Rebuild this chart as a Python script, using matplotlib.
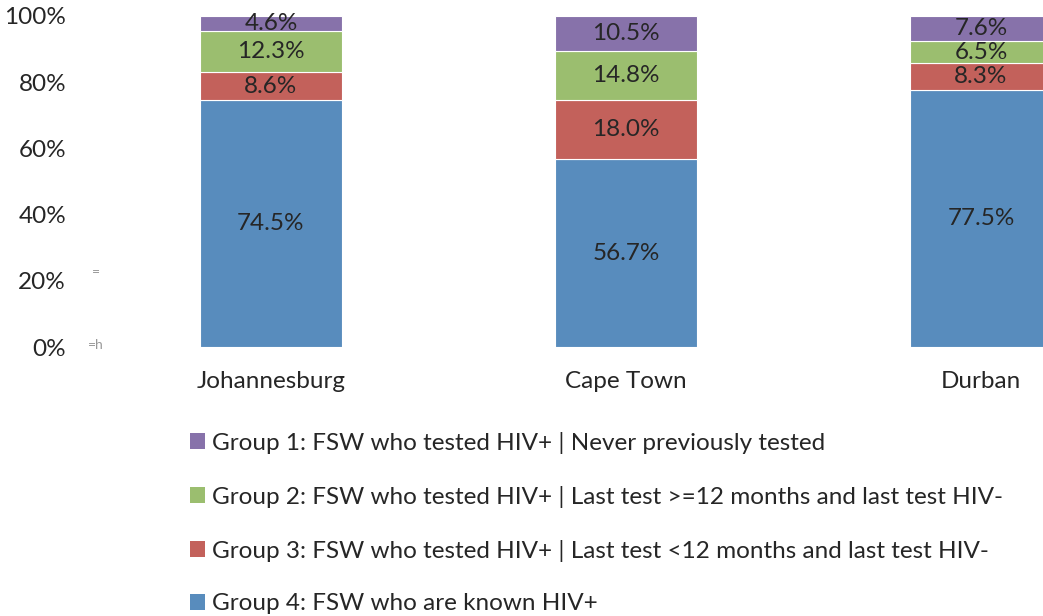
import matplotlib
matplotlib.use("Agg")
import matplotlib.pyplot as plt
from matplotlib.patches import Patch

cities = ["Johannesburg", "Cape Town", "Durban"]
group4 = [74.5, 56.7, 77.5]
group3 = [8.6, 18.0, 8.3]
group2 = [12.3, 14.8, 6.5]
group1 = [4.6, 10.5, 7.6]

labels = [
    "Group 1: FSW who tested HIV+ | Never previously tested",
    "Group 2: FSW who tested HIV+ | Last test >=12 months and last test HIV-",
    "Group 3: FSW who tested HIV+ | Last test <12 months and last test HIV-",
    "Group 4: FSW who are known HIV+",
]
colors = ["#8772aa", "#9bbe6f", "#c3615b", "#588cbd"]

plt.rcParams["font.family"] = ["Lato", "DejaVu Sans"]
fs = 17.5

fig = plt.figure(figsize=(10.43, 6.16), dpi=100)
ax = fig.add_axes([80 / 1043, 1 - 347 / 616, 1 - 80 / 1043, 331 / 616])

x = list(range(len(cities)))
bottom = [0.0, 0.0, 0.0]
# van onder naar boven stapelen: groep 4, 3, 2, 1
for vals, col in zip([group4, group3, group2, group1], colors[::-1]):
    bars = ax.bar(x, vals, width=0.4, bottom=bottom, color=col,
                  edgecolor="white", linewidth=0.8)
    for i, b in enumerate(bars):
        ax.text(b.get_x() + b.get_width() / 2, bottom[i] + vals[i] / 2,
                "%.1f%%" % vals[i], ha="center", va="center",
                fontsize=fs, color="#262626")
    bottom = [bottom[i] + vals[i] for i in range(3)]

ax.set_xlim((80 - 271) / 355, (1043 - 271) / 355)
ax.set_ylim(0, 100)
ax.set_yticks([0, 20, 40, 60, 80, 100])
ax.set_yticklabels(["%d%%" % v for v in [0, 20, 40, 60, 80, 100]],
                   fontsize=fs, color="#262626")
ax.set_xticks(x)
ax.set_xticklabels(cities, fontsize=fs, color="#262626")
ax.tick_params(length=0)
ax.tick_params(axis="x", pad=17)
ax.tick_params(axis="y", pad=10)
for s in ax.spines.values():
    s.set_visible(False)

# kleine grijze tekens naast de y-as
fig.text(92 / 1043, 1 - 272 / 616, "=", fontsize=10, color="#999999",
         ha="left", va="center")
fig.text(88 / 1043, 1 - 345 / 616, "=h", fontsize=10, color="#999999",
         ha="left", va="center")

handles = [Patch(facecolor=c, edgecolor="none") for c in colors]
fig.legend(handles, labels, loc="upper left",
           bbox_to_anchor=(168 / 1043, 1 - 410 / 616), frameon=False,
           fontsize=fs, handlelength=0.62, handleheight=0.62,
           handletextpad=0.3, labelspacing=1.31, labelcolor="#262626")

fig.savefig("out.png", dpi=100)
